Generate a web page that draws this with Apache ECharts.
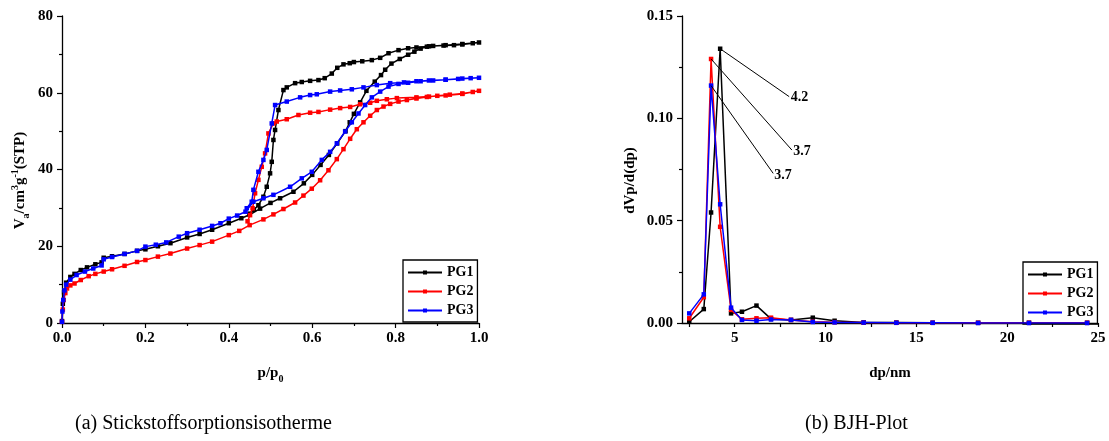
<!DOCTYPE html>
<html><head><meta charset="utf-8">
<script src="https://cdn.jsdelivr.net/npm/echarts@6/dist/echarts.min.js"></script>
<style>html,body{margin:0;padding:0;background:#fff}#c{width:1109px;height:441px}</style>
</head><body><div id="c"></div>
<script>
// ---- (a) Nitrogen sorption isotherms: adsorption branch then desorption branch ----
const pg1AdsP = [0, 0.002, 0.005, 0.01, 0.02, 0.03, 0.045, 0.06, 0.08, 0.095, 0.1, 0.12, 0.15, 0.18, 0.2, 0.23, 0.26, 0.3, 0.33, 0.36, 0.4, 0.43, 0.45, 0.475, 0.5, 0.523, 0.555, 0.58, 0.6, 0.62, 0.64, 0.66, 0.68, 0.69, 0.7, 0.715, 0.73, 0.75, 0.765, 0.775, 0.79, 0.81, 0.83, 0.845, 0.86, 0.875, 0.89, 0.915, 0.94, 0.96, 0.985, 1.0];
const pg1AdsV = [0.5, 5, 8, 10.5, 12, 12.8, 13.8, 14.5, 15.3, 15.8, 17, 17.4, 18, 18.8, 19.2, 20, 20.8, 22.3, 23.2, 24.3, 26, 27.3, 28.2, 29.8, 31.3, 32.5, 34.2, 36.4, 38.6, 41.2, 43.8, 46.8, 50, 52.3, 54.5, 57.5, 60.5, 62.9, 64.6, 66, 67.6, 68.8, 69.9, 70.7, 71.5, 72, 72.2, 72.3, 72.4, 72.6, 72.9, 73.1];
const pg1DesP = [0.96, 0.92, 0.88, 0.85, 0.83, 0.807, 0.783, 0.763, 0.743, 0.72, 0.7, 0.69, 0.675, 0.66, 0.647, 0.63, 0.615, 0.595, 0.575, 0.559, 0.539, 0.531, 0.519, 0.511, 0.507, 0.503, 0.499, 0.491, 0.483, 0.471, 0.46, 0.45];
const pg1DesV = [72.7, 72.4, 72.1, 71.8, 71.6, 71.1, 70.3, 69.1, 68.5, 68.2, 68, 67.7, 67.4, 66.5, 65, 63.8, 63.3, 63.1, 62.8, 62.5, 61.4, 60.7, 55.5, 50.3, 47.7, 42, 39, 35.5, 32.9, 30.7, 29.5, 28.5];

const pg2AdsP = [0, 0.002, 0.004, 0.008, 0.012, 0.02, 0.03, 0.045, 0.064, 0.08, 0.1, 0.12, 0.15, 0.18, 0.2, 0.23, 0.26, 0.3, 0.33, 0.36, 0.4, 0.425, 0.45, 0.483, 0.507, 0.531, 0.559, 0.579, 0.599, 0.619, 0.639, 0.659, 0.675, 0.691, 0.707, 0.723, 0.739, 0.755, 0.771, 0.787, 0.807, 0.827, 0.85, 0.875, 0.9, 0.93, 0.96, 0.985, 1.0];
const pg2AdsV = [0.3, 3.5, 6, 7.8, 9, 9.8, 10.3, 11.2, 12.2, 12.8, 13.4, 14, 14.9, 15.9, 16.4, 17.3, 18.1, 19.4, 20.3, 21.2, 22.9, 24, 25.5, 27, 28.3, 29.7, 31.4, 33.2, 35, 37.2, 39.8, 42.7, 45.3, 48, 50.5, 52.3, 54, 55.5, 56.4, 57.1, 57.7, 58.1, 58.5, 58.9, 59.2, 59.5, 59.8, 60.2, 60.5];
const pg2DesP = [0.96, 0.92, 0.88, 0.85, 0.803, 0.779, 0.755, 0.739, 0.715, 0.691, 0.667, 0.643, 0.615, 0.595, 0.567, 0.539, 0.515, 0.507, 0.495, 0.487, 0.479, 0.471, 0.463, 0.457, 0.451, 0.445];
const pg2DesV = [59.7, 59.3, 59, 58.8, 58.6, 58.3, 57.9, 57.4, 57, 56.3, 56, 55.6, 55, 54.8, 54.2, 53.1, 52.5, 52, 49.4, 44.2, 40.7, 37.3, 33.8, 29.9, 28.1, 26.5];

const pg3AdsP = [0, 0.001, 0.003, 0.006, 0.01, 0.02, 0.035, 0.055, 0.075, 0.095, 0.1, 0.12, 0.15, 0.18, 0.2, 0.225, 0.25, 0.28, 0.3, 0.33, 0.36, 0.38, 0.4, 0.42, 0.44, 0.459, 0.483, 0.507, 0.547, 0.575, 0.599, 0.623, 0.643, 0.659, 0.679, 0.695, 0.711, 0.727, 0.743, 0.763, 0.783, 0.807, 0.83, 0.86, 0.89, 0.92, 0.95, 0.98, 1.0];
const pg3AdsV = [0.3, 3, 6, 8.5, 10, 11.3, 12.5, 13.4, 14.2, 15, 16.6, 17.2, 18, 18.8, 19.9, 20.4, 21, 22.5, 23.4, 24.3, 25.3, 26, 27.2, 28, 29, 31.6, 32.5, 33.4, 35.5, 37.7, 39.4, 42.5, 44.6, 46.8, 49.9, 52.3, 54.6, 56.8, 58.8, 60.3, 61.6, 62.3, 62.6, 63, 63.2, 63.4, 63.6, 63.8, 63.9];
const pg3DesP = [0.96, 0.92, 0.88, 0.85, 0.82, 0.787, 0.755, 0.723, 0.695, 0.667, 0.643, 0.611, 0.595, 0.571, 0.539, 0.511, 0.503, 0.491, 0.483, 0.471, 0.459, 0.455, 0.443];
const pg3DesV = [63.7, 63.4, 63.2, 63, 62.7, 62.5, 62, 61.4, 60.9, 60.6, 60.3, 59.6, 59.4, 58.8, 57.7, 56.8, 52, 45.1, 42.5, 39.4, 34.7, 31.6, 29.9];

// ---- (b) BJH pore size distribution ----
const poreD = [2.5, 3.3, 3.7, 4.2, 4.8, 5.4, 6.2, 7.0, 8.1, 9.3, 10.5, 12.1, 13.9, 15.9, 18.4, 21.2, 24.4];
const pg1Bjh = [0.0006, 0.0068, 0.054, 0.134, 0.0047, 0.0055, 0.0085, 0.0020, 0.0015, 0.0026, 0.0011, 0.0003, 0.0002, 0.0001, 0.0001, 0.0001, 0.0001];
const pg2Bjh = [0.0023, 0.0126, 0.129, 0.047, 0.0064, 0.0018, 0.0023, 0.0026, 0.0015, 0.0006, 0.0004, 0.0002, 0.0001, 0.0001, 0.0001, 0.0001, 0.0001];
const pg3Bjh = [0.0047, 0.014, 0.116, 0.058, 0.0075, 0.0015, 0.0011, 0.0017, 0.0015, 0.0005, 0.0003, 0.0002, 0.0001, 0.0001, 0.0, 0.0, 0.0];

// peak annotations
const annotFrom = [[4.2, 0.134], [3.7, 0.129], [3.7, 0.116]];
const annotTo = [[8.0, 0.1106], [8.15, 0.0845], [7.12, 0.0731]];
const annotLabels = ['4.2', '3.7', '3.7'];

const seriesNames = ['PG1', 'PG2', 'PG3'];
const seriesColors = ['#000000', '#ff0000', '#0000ff'];
const xTicksB = [2.5, 5, 7.5, 10, 12.5, 15, 17.5, 20, 22.5, 25];
const xLabelsB = [5, 10, 15, 20, 25];
const captions = ['(a) Stickstoffsorptionsisotherme', '(b) BJH-Plot'];

const SERIF = 'Liberation Serif';
const pairs = (xs, ys) => xs.map((x, i) => [x, ys[i]]);
const iso = [
  pairs(pg1AdsP, pg1AdsV).concat(pairs(pg1DesP, pg1DesV)),
  pairs(pg2AdsP, pg2AdsV).concat(pairs(pg2DesP, pg2DesV)),
  pairs(pg3AdsP, pg3AdsV).concat(pairs(pg3DesP, pg3DesV))
];
const bjh = [pairs(poreD, pg1Bjh), pairs(poreD, pg2Bjh), pairs(poreD, pg3Bjh)];

const lbl = {fontFamily: SERIF, fontWeight: 'bold', fontSize: 15, color: '#000'};
const axLine = {lineStyle: {color: '#000', width: 1.3}};
const tick = {length: 5, lineStyle: {color: '#000', width: 1.2}};
const minor = {show: true, splitNumber: 2, length: 3, lineStyle: {color: '#000', width: 1.2}};
const richSS = {
  sub: {fontFamily: SERIF, fontWeight: 'bold', fontSize: 10, lineHeight: 10, verticalAlign: 'bottom', color: '#000'},
  sup: {fontFamily: SERIF, fontWeight: 'bold', fontSize: 10, lineHeight: 10, verticalAlign: 'top', color: '#000'}
};
const nameStyle = {fontFamily: SERIF, fontWeight: 'bold', fontSize: 15, lineHeight: 21, color: '#000', rich: richSS};
const yNameStyle = Object.assign({}, nameStyle, {padding: [0, 22, 0, 0]});

const mkSeries = (data, i, grid) => ({
  name: seriesNames[i], type: 'line', xAxisIndex: grid, yAxisIndex: grid,
  data: data, symbol: 'rect', symbolSize: 4.5, showSymbol: true,
  lineStyle: {color: seriesColors[i], width: 1.5},
  itemStyle: {color: seriesColors[i]},
  z: 2 + i, silent: true
});

const series = [];
iso.forEach((d, i) => series.push(mkSeries(d, i, 0)));
bjh.forEach((d, i) => series.push(mkSeries(d, i, 1)));
series[3].markLine = {
  silent: true, symbol: ['none', 'none'], animation: false,
  lineStyle: {color: '#000', width: 1, type: 'solid'},
  label: {show: true, position: 'end', distance: 2, align: 'left', verticalAlign: 'middle',
    formatter: p => annotLabels[p.dataIndex], fontFamily: SERIF, fontWeight: 'bold', fontSize: 14, color: '#000'},
  emphasis: {disabled: true},
  data: annotFrom.map((f, i) => [{coord: f}, {coord: annotTo[i]}])
};

const legendBase = {
  orient: 'vertical', data: seriesNames, itemWidth: 34, itemHeight: 5, itemGap: 4,
  borderColor: '#000', borderWidth: 1.3, padding: [5, 4, 4, 4], selectedMode: false,
  textStyle: {fontFamily: SERIF, fontWeight: 'bold', fontSize: 14, lineHeight: 15, color: '#000'}
};

const option = {
  animation: false,
  backgroundColor: '#fff',
  grid: [
    {left: 62, top: 16, width: 417, height: 307, outerBoundsMode: 'none', containLabel: false},
    {left: 682, top: 16, width: 416, height: 307, outerBoundsMode: 'none', containLabel: false}
  ],
  xAxis: [
    {gridIndex: 0, type: 'value', min: 0, max: 1, interval: 0.2,
     axisLine: axLine, axisTick: tick, minorTick: minor, splitLine: {show: false},
     axisLabel: Object.assign({}, lbl, {margin: 8, formatter: v => v.toFixed(1)}),
     name: 'p/p{sub|0}', nameLocation: 'middle', nameGap: 40, nameTextStyle: nameStyle},
    {gridIndex: 1, type: 'value', min: 2.1, max: 25,
     axisLine: axLine, axisTick: Object.assign({}, tick, {length: 4, customValues: xTicksB}), splitLine: {show: false},
     axisLabel: Object.assign({}, lbl, {margin: 8, customValues: xLabelsB}),
     name: 'dp/nm', nameLocation: 'middle', nameGap: 40, nameTextStyle: nameStyle}
  ],
  yAxis: [
    {gridIndex: 0, type: 'value', min: 0, max: 80, interval: 20,
     axisLine: Object.assign({show: true}, axLine), axisTick: Object.assign({show: true}, tick), minorTick: minor, splitLine: {show: false},
     axisLabel: Object.assign({}, lbl, {margin: 9}),
     name: 'V{sub|a}/cm{sup|3}g{sup|-1}(STP)', nameLocation: 'middle', nameGap: 31, nameRotate: 90, nameTextStyle: yNameStyle},
    {gridIndex: 1, type: 'value', min: 0, max: 0.15, interval: 0.05,
     axisLine: Object.assign({show: true}, axLine), axisTick: Object.assign({show: true}, tick), minorTick: minor, splitLine: {show: false},
     axisLabel: Object.assign({}, lbl, {margin: 9, formatter: v => v.toFixed(2)}),
     name: 'dVp/d(dp)', nameLocation: 'middle', nameGap: 41, nameRotate: 90, nameTextStyle: yNameStyle}
  ],
  legend: [
    Object.assign({}, legendBase, {left: 403, top: 260}),
    Object.assign({}, legendBase, {left: 1023, top: 262})
  ],
  graphic: [
    {type: 'text', left: 75, top: 414, silent: true, style: {text: captions[0], fontFamily: SERIF, fontSize: 20, fill: '#000'}},
    {type: 'text', left: 805, top: 414, silent: true, style: {text: captions[1], fontFamily: SERIF, fontSize: 20, fill: '#000'}}
  ],
  series: series
};

const chart = echarts.init(document.getElementById('c'), null, {renderer: 'canvas'});
chart.setOption(option);
</script></body></html>
